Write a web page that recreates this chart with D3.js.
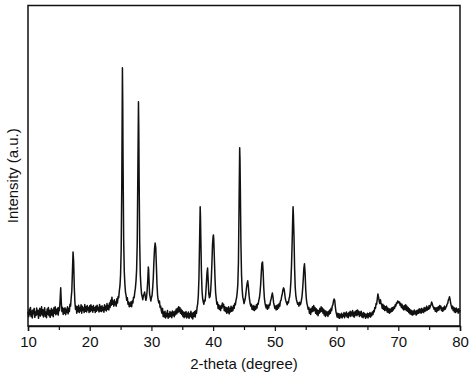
<!DOCTYPE html>
<html><head><meta charset="utf-8">
<script src="https://cdn.jsdelivr.net/npm/d3@7"></script>
<style>html,body{margin:0;padding:0;background:#fff;}svg{display:block;}</style>
</head><body>
<script>
// XRD pattern, [2-theta (deg), intensity (a.u.)]
const seg10to20 = [[10.0,45],[10.1,28],[10.2,52],[10.3,35],[10.4,58],[10.5,30],[10.6,47],[10.7,25],[10.8,50],[10.9,38],[11.0,55],[11.1,27],[11.2,44],[11.3,33],[11.4,56],[11.5,36],[11.6,49],[11.7,24],[11.8,42],[11.9,55],[12.0,31],[12.1,48],[12.2,60],[12.3,34],[12.4,51],[12.5,28],[12.6,46],[12.7,57],[12.8,30],[12.9,44],[13.0,26],[13.1,53],[13.2,37],[13.3,58],[13.4,32],[13.5,49],[13.6,27],[13.7,45],[13.8,55],[13.9,33],[14.0,50],[14.1,29],[14.2,57],[14.3,40],[14.4,60],[14.5,35],[14.6,52],[14.7,38],[14.8,56],[14.9,34],[15.0,58],[15.1,48],[15.2,80],[15.3,119],[15.4,72],[15.5,45],[15.6,58],[15.7,36],[15.8,54],[15.9,40],[16.0,57],[16.1,35],[16.2,52],[16.3,42],[16.4,60],[16.5,38],[16.6,55],[16.7,45],[16.8,68],[16.9,62],[17.0,88],[17.1,110],[17.2,170],[17.3,231],[17.4,200],[17.5,120],[17.6,75],[17.7,52],[17.8,62],[17.9,40],[18.0,60],[18.1,45],[18.2,65],[18.3,42],[18.4,58],[18.5,47],[18.6,66],[18.7,40],[18.8,62],[18.9,48],[19.0,56],[19.1,42],[19.2,67],[19.3,46],[19.4,60],[19.5,44],[19.6,64],[19.7,50],[19.8,58],[19.9,42],[20.0,63]];
const seg20to31 = [[20.1,45],[20.2,66],[20.3,48],[20.4,60],[20.5,43],[20.6,64],[20.7,49],[20.8,57],[20.9,42],[21.0,62],[21.1,46],[21.2,65],[21.3,50],[21.4,58],[21.5,44],[21.6,67],[21.7,47],[21.8,61],[21.9,45],[22.0,63],[22.1,48],[22.2,58],[22.3,43],[22.4,66],[22.5,50],[22.6,62],[22.7,47],[22.8,70],[22.9,52],[23.0,64],[23.1,50],[23.2,72],[23.3,58],[23.4,80],[23.5,65],[23.6,90],[23.7,68],[23.8,78],[23.9,62],[24.0,82],[24.1,66],[24.2,75],[24.3,62],[24.4,85],[24.5,72],[24.6,92],[24.7,88],[24.8,110],[24.9,125],[25.0,160],[25.1,240],[25.2,450],[25.3,806],[25.35,700],[25.4,520],[25.5,270],[25.6,170],[25.7,130],[25.8,105],[25.9,95],[26.0,80],[26.1,88],[26.2,68],[26.3,75],[26.4,60],[26.5,72],[26.6,62],[26.7,76],[26.8,60],[26.9,78],[27.0,72],[27.1,90],[27.2,88],[27.3,105],[27.4,118],[27.5,140],[27.6,175],[27.7,260],[27.8,480],[27.9,700],[27.95,620],[28.0,470],[28.1,260],[28.2,160],[28.3,125],[28.4,100],[28.5,92],[28.6,82],[28.7,95],[28.8,100],[28.9,106],[29.0,92],[29.1,80],[29.2,88],[29.3,110],[29.4,140],[29.5,184],[29.55,175],[29.6,150],[29.7,100],[29.8,90],[29.9,78],[30.0,88],[30.1,95],[30.2,118],[30.3,150],[30.4,200],[30.5,240],[30.6,259],[30.7,245],[30.8,190],[30.9,130],[31.0,95],[31.1,80],[31.2,72],[31.3,78],[31.4,58],[31.5,62]];
const seg31to37 = [[31.6,48],[31.7,40],[31.8,55],[31.9,30],[32.0,44],[32.1,28],[32.2,46],[32.3,25],[32.4,40],[32.5,30],[32.6,48],[32.7,24],[32.8,38],[32.9,28],[33.0,45],[33.1,30],[33.2,42],[33.3,26],[33.4,47],[33.5,33],[33.6,44],[33.7,29],[33.8,46],[33.9,35],[34.0,52],[34.1,38],[34.2,55],[34.3,42],[34.4,60],[34.5,45],[34.6,58],[34.7,40],[34.8,52],[34.9,36],[35.0,48],[35.1,30],[35.2,44],[35.3,26],[35.4,42],[35.5,30],[35.6,45],[35.7,25],[35.8,40],[35.9,28],[36.0,44],[36.1,24],[36.2,38],[36.3,30],[36.4,46],[36.5,26],[36.6,40],[36.7,22],[36.8,42],[36.9,30],[37.0,45],[37.1,28],[37.2,48],[37.3,40],[37.4,58]];
const seg37to56 = [[37.5,70],[37.6,95],[37.7,150],[37.8,260],[37.9,372],[37.95,340],[38.0,280],[38.1,170],[38.2,110],[38.3,85],[38.4,75],[38.5,68],[38.6,80],[38.7,78],[38.8,100],[38.9,130],[39.0,165],[39.1,181],[39.2,140],[39.3,100],[39.4,88],[39.5,92],[39.6,110],[39.7,145],[39.8,195],[39.9,255],[40.0,280],[40.05,284],[40.1,270],[40.2,210],[40.3,150],[40.4,105],[40.5,85],[40.6,68],[40.7,74],[40.8,55],[40.9,66],[41.0,52],[41.1,62],[41.2,48],[41.3,64],[41.4,55],[41.5,72],[41.6,60],[41.7,68],[41.8,48],[41.9,60],[42.0,45],[42.1,58],[42.2,40],[42.3,56],[42.4,42],[42.5,60],[42.6,38],[42.7,55],[42.8,44],[42.9,62],[43.0,46],[43.1,58],[43.2,48],[43.3,64],[43.4,55],[43.5,70],[43.6,66],[43.7,80],[43.8,88],[43.9,105],[44.0,130],[44.1,200],[44.2,380],[44.3,556],[44.35,520],[44.4,440],[44.5,260],[44.6,160],[44.7,115],[44.8,90],[44.9,82],[45.0,70],[45.1,78],[45.2,85],[45.3,100],[45.4,118],[45.5,132],[45.6,141],[45.7,125],[45.8,100],[45.9,82],[46.0,70],[46.1,62],[46.2,68],[46.3,52],[46.4,62],[46.5,50],[46.6,64],[46.7,48],[46.8,60],[46.9,52],[47.0,66],[47.1,56],[47.2,70],[47.3,68],[47.4,80],[47.5,88],[47.6,105],[47.7,130],[47.8,165],[47.9,195],[48.0,200],[48.1,170],[48.2,120],[48.3,88],[48.4,72],[48.5,62],[48.6,56],[48.7,66],[48.8,52],[48.9,64],[49.0,56],[49.1,68],[49.2,65],[49.3,78],[49.4,85],[49.5,95],[49.6,103],[49.7,90],[49.8,72],[49.9,64],[50.0,55],[50.1,62],[50.2,50],[50.3,64],[50.4,52],[50.5,66],[50.6,56],[50.7,70],[50.8,62],[50.9,78],[51.0,80],[51.1,92],[51.2,100],[51.3,112],[51.4,119],[51.5,115],[51.6,100],[51.7,85],[51.8,78],[51.9,72],[52.0,66],[52.1,76],[52.2,72],[52.3,85],[52.4,92],[52.5,110],[52.6,140],[52.7,190],[52.8,260],[52.9,340],[52.95,372],[53.0,350],[53.1,280],[53.2,180],[53.3,120],[53.4,95],[53.5,82],[53.6,75],[53.7,68],[53.8,72],[53.9,62],[54.0,74],[54.1,66],[54.2,70],[54.3,80],[54.4,92],[54.5,115],[54.6,145],[54.7,180],[54.8,194],[54.9,165],[55.0,115],[55.1,85],[55.2,70],[55.3,62],[55.4,52],[55.5,58]];
const seg56to66 = [[55.6,40],[55.7,52],[55.8,36],[55.9,55],[56.0,44],[56.1,60],[56.2,46],[56.3,64],[56.4,48],[56.5,58],[56.6,40],[56.7,54],[56.8,36],[56.9,50],[57.0,32],[57.1,48],[57.2,40],[57.3,55],[57.4,44],[57.5,60],[57.6,46],[57.7,56],[57.8,40],[57.9,52],[58.0,34],[58.1,48],[58.2,30],[58.3,46],[58.4,34],[58.5,44],[58.6,30],[58.7,46],[58.8,36],[58.9,50],[59.0,40],[59.1,55],[59.2,48],[59.3,62],[59.4,66],[59.5,78],[59.6,84],[59.7,80],[59.8,60],[59.9,45],[60.0,36],[60.1,28],[60.2,40],[60.3,26],[60.4,38],[60.5,24],[60.6,36],[60.7,28],[60.8,40],[60.9,25],[61.0,36],[61.1,30],[61.2,42],[61.3,26],[61.4,40],[61.5,32],[61.6,44],[61.7,28],[61.8,38],[61.9,26],[62.0,42],[62.1,32],[62.2,46],[62.3,30],[62.4,44],[62.5,34],[62.6,48],[62.7,30],[62.8,42],[62.9,28],[63.0,45],[63.1,34],[63.2,48],[63.3,32],[63.4,50],[63.5,36],[63.6,46],[63.7,30],[63.8,44],[63.9,33],[64.0,46],[64.1,28],[64.2,40],[64.3,26],[64.4,42],[64.5,30],[64.6,38],[64.7,24],[64.8,36],[64.9,28],[65.0,40],[65.1,25],[65.2,38],[65.3,30],[65.4,42],[65.5,28],[65.6,40],[65.7,32],[65.8,44],[65.9,36],[66.0,48]];
const seg66to80 = [[66.1,44],[66.2,58],[66.3,55],[66.4,70],[66.5,68],[66.6,85],[66.7,100],[66.8,90],[66.9,78],[67.0,70],[67.1,82],[67.2,72],[67.3,66],[67.4,55],[67.5,68],[67.6,52],[67.7,64],[67.8,48],[67.9,60],[68.0,50],[68.1,62],[68.2,44],[68.3,56],[68.4,42],[68.5,54],[68.6,40],[68.7,52],[68.8,44],[68.9,56],[69.0,46],[69.1,58],[69.2,50],[69.3,60],[69.4,55],[69.5,66],[69.6,62],[69.7,72],[69.8,70],[69.9,78],[70.0,76],[70.1,72],[70.2,75],[70.3,64],[70.4,70],[70.5,58],[70.6,68],[70.7,54],[70.8,62],[70.9,50],[71.0,64],[71.1,52],[71.2,66],[71.3,48],[71.4,62],[71.5,46],[71.6,58],[71.7,42],[71.8,54],[71.9,38],[72.0,50],[72.1,36],[72.2,48],[72.3,34],[72.4,46],[72.5,36],[72.6,50],[72.7,38],[72.8,46],[72.9,34],[73.0,48],[73.1,38],[73.2,50],[73.3,40],[73.4,54],[73.5,42],[73.6,52],[73.7,40],[73.8,55],[73.9,44],[74.0,52],[74.1,42],[74.2,58],[74.3,46],[74.4,56],[74.5,48],[74.6,62],[74.7,50],[74.8,58],[74.9,52],[75.0,64],[75.1,55],[75.2,62],[75.3,66],[75.4,75],[75.5,70],[75.6,62],[75.7,58],[75.8,52],[75.9,58],[76.0,46],[76.1,56],[76.2,44],[76.3,58],[76.4,48],[76.5,60],[76.6,50],[76.7,64],[76.8,55],[76.9,62],[77.0,48],[77.1,56],[77.2,46],[77.3,58],[77.4,50],[77.5,62],[77.6,52],[77.7,58],[77.8,60],[77.9,68],[78.0,70],[78.1,80],[78.2,85],[78.3,91],[78.4,82],[78.5,70],[78.6,62],[78.7,54],[78.8,62],[78.9,48],[79.0,58],[79.1,44],[79.2,55],[79.3,42],[79.4,56],[79.5,46],[79.6,52],[79.7,40],[79.8,54],[79.9,44],[80.0,50]];
const majorTicks = [10,20,30,40,50,60,70,80];
const minorTicks = [15,25,35,45,55,65,75];
const xTitle = "2-theta (degree)";
const yTitle = "Intensity (a.u.)";

const data = [].concat(seg10to20, seg20to31, seg31to37, seg37to56, seg56to66, seg66to80);

const W = 474, H = 378;
const m = {left: 28, right: 14, top: 5.5, bottom: 52};
const svg = d3.select("body").append("svg").attr("width", W).attr("height", H);

const x = d3.scaleLinear().domain([10, 80]).range([m.left, W - m.right]);
const y = d3.scaleLinear().domain([0, 1000]).range([H - m.bottom, m.top]);

const font = "Liberation Sans, Arial, sans-serif";

svg.append("path").datum(data)
  .attr("fill", "none").attr("stroke", "#111").attr("stroke-width", 1.5)
  .attr("stroke-linejoin", "round")
  .attr("d", d3.line().x(d => x(d[0])).y(d => y(d[1])));

svg.append("rect").attr("x", m.left).attr("y", m.top)
  .attr("width", W - m.right - m.left).attr("height", H - m.bottom - m.top)
  .attr("fill", "none").attr("stroke", "#111").attr("stroke-width", 1.5);

const gx = svg.append("g").attr("transform", `translate(0,${H - m.bottom})`)
  .call(d3.axisBottom(x).tickValues(majorTicks).tickSize(5).tickPadding(5).tickFormat(d3.format("d")));
gx.select(".domain").attr("stroke", "#111").attr("stroke-width", 1.5);
gx.selectAll(".tick line").attr("stroke", "#111").attr("stroke-width", 1.2);
gx.selectAll("text").attr("font-family", font).attr("font-size", 15).attr("fill", "#111");
svg.append("g").attr("transform", `translate(0,${H - m.bottom})`)
  .call(d3.axisBottom(x).tickValues(minorTicks).tickSize(4).tickFormat(""))
  .call(g => g.select(".domain").remove())
  .selectAll(".tick line").attr("stroke", "#111").attr("stroke-width", 1.2);

svg.append("text").attr("x", (m.left + W - m.right) / 2).attr("y", 369)
  .attr("text-anchor", "middle").attr("font-family", font).attr("font-size", 15).attr("fill", "#111")
  .text(xTitle);
svg.append("text").attr("transform", `translate(18,${(m.top + H - m.bottom) / 2 + 10}) rotate(-90)`)
  .attr("text-anchor", "middle").attr("font-family", font).attr("font-size", 15).attr("fill", "#111")
  .text(yTitle);
</script>
</body></html>
